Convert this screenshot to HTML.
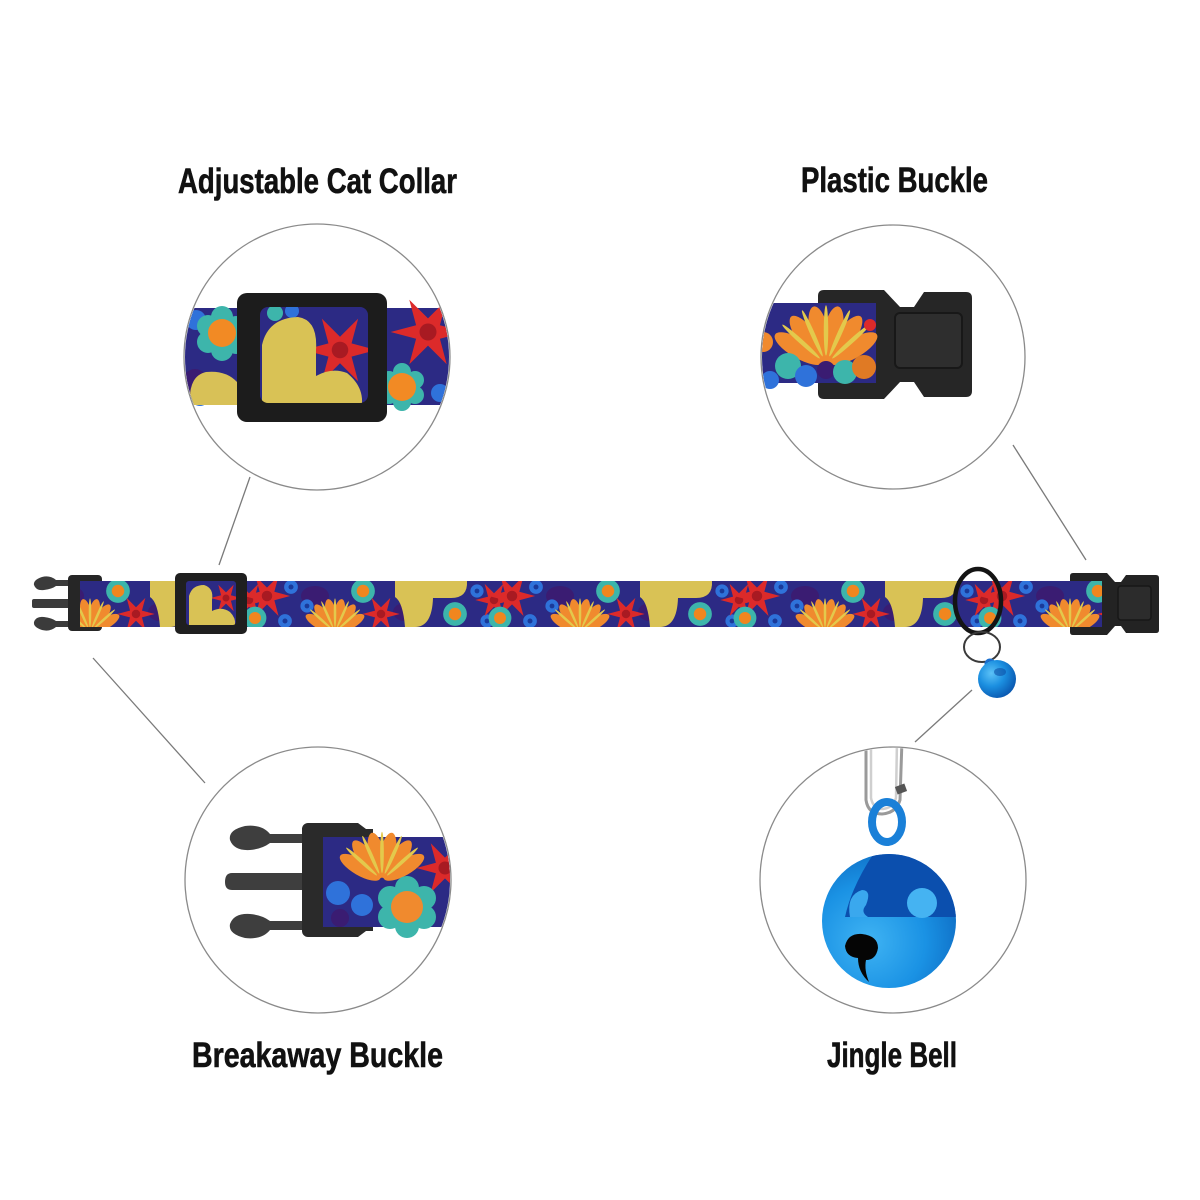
<!DOCTYPE html>
<html><head><meta charset="utf-8">
<style>
html,body{margin:0;padding:0;background:#fff;}
svg{display:block;}
text{font-family:"Liberation Sans Narrow","Liberation Sans",sans-serif;font-weight:bold;fill:#111;stroke:#111;stroke-width:0.6;}
</style></head>
<body>
<svg width="1200" height="1200" viewBox="0 0 1200 1200" xmlns="http://www.w3.org/2000/svg">
<defs>
  <g id="tf"><circle r="9.5" fill="#3db5ab"/><circle r="5" fill="#f0861f"/></g>
  <g id="rf"><polygon points="11,0 3.5,2 5.5,9.5 0,4 -5.5,9.5 -3.5,2 -11,0 -3.5,-2 -5.5,-9.5 0,-4 5.5,-9.5 3.5,-2" fill="#dc2a2a"/><circle r="2.5" fill="#a81a22"/></g>
  <g id="bf"><circle r="5.5" fill="#2f72da"/><circle r="2" fill="#1a3a9a"/></g>
  <g id="of" fill="#f08a2e">
    <ellipse cx="0" cy="-11" rx="3.5" ry="10" transform="rotate(-60)"/>
    <ellipse cx="0" cy="-11" rx="3.5" ry="10" transform="rotate(-36)"/>
    <ellipse cx="0" cy="-11" rx="3.5" ry="10" transform="rotate(-12)"/>
    <ellipse cx="0" cy="-11" rx="3.5" ry="10" transform="rotate(12)"/>
    <ellipse cx="0" cy="-11" rx="3.5" ry="10" transform="rotate(36)"/>
    <ellipse cx="0" cy="-11" rx="3.5" ry="10" transform="rotate(60)"/>
  </g>
  <g id="yf" fill="#e3c94c">
    <ellipse cx="0" cy="-12" rx="0.8" ry="9" transform="rotate(-48)"/>
    <ellipse cx="0" cy="-12" rx="0.8" ry="9" transform="rotate(-24)"/>
    <ellipse cx="0" cy="-12" rx="0.8" ry="9" transform="rotate(0)"/>
    <ellipse cx="0" cy="-12" rx="0.8" ry="9" transform="rotate(24)"/>
    <ellipse cx="0" cy="-12" rx="0.8" ry="9" transform="rotate(48)"/>
  </g>
  <g id="unit">
    <ellipse cx="60" cy="596" rx="14" ry="10" fill="#3a1c72"/>
    <ellipse cx="150" cy="612" rx="12" ry="9" fill="#3a1c72"/>
    <use href="#rf" transform="translate(12,596) scale(2.1)"/>
    <use href="#tf" transform="translate(0,618) scale(1.2)"/>
    <use href="#bf" transform="translate(36,587) scale(1.25)"/>
    <use href="#bf" transform="translate(30,621) scale(1.25)"/>
    <use href="#bf" transform="translate(52,606) scale(1.2)"/>
    <use href="#of" transform="translate(80,632) scale(1.6)"/>
    <use href="#yf" transform="translate(80,632) scale(1.6)"/>
    <use href="#tf" transform="translate(108,591) scale(1.25)"/>
    <use href="#rf" transform="translate(126,614) scale(1.7)"/>
    <path d="M140,581 L212,581 Q213,598 196,598 L178,598 Q177,627 160,627 L150,627 Q148,602 140,597 Z" fill="#d9c255"/>
    <use href="#tf" transform="translate(200,614) scale(1.25)"/>
    <use href="#bf" transform="translate(222,591) scale(1.2)"/>
    <use href="#bf" transform="translate(232,621) scale(1.2)"/>
    <use href="#rf" transform="translate(239,600) scale(1.7)"/>
  </g>
  <clipPath id="strapClip"><rect x="80" y="581" width="1022" height="46"/></clipPath>
  <clipPath id="cTL"><circle cx="317" cy="357" r="132"/></clipPath>
  <clipPath id="cTR"><circle cx="893" cy="357" r="131"/></clipPath>
  <clipPath id="cBL"><circle cx="318" cy="880" r="132"/></clipPath>
  <clipPath id="cBR"><circle cx="893" cy="880" r="132"/></clipPath>
  <clipPath id="bellClip"><circle cx="889" cy="921" r="67"/></clipPath>
  <radialGradient id="bellG" cx="0.35" cy="0.65" r="0.7">
    <stop offset="0" stop-color="#3fb3f3"/>
    <stop offset="0.6" stop-color="#1a92e4"/>
    <stop offset="1" stop-color="#0f6fc6"/>
  </radialGradient>
  <radialGradient id="bellS" cx="0.35" cy="0.35" r="0.7">
    <stop offset="0" stop-color="#5cc2f7"/>
    <stop offset="0.5" stop-color="#1b8fe0"/>
    <stop offset="1" stop-color="#0a58b0"/>
  </radialGradient>
</defs>

<!-- Titles -->
<text x="178" y="193" font-size="35" textLength="279" lengthAdjust="spacingAndGlyphs">Adjustable Cat Collar</text>
<text x="801" y="192" font-size="35" textLength="187" lengthAdjust="spacingAndGlyphs">Plastic Buckle</text>
<text x="192" y="1067" font-size="35" textLength="251" lengthAdjust="spacingAndGlyphs">Breakaway Buckle</text>
<text x="827" y="1067" font-size="35" textLength="130" lengthAdjust="spacingAndGlyphs">Jingle Bell</text>

<!-- Connector lines -->
<g stroke="#7a7a7a" stroke-width="1.3" fill="none">
  <line x1="250" y1="477" x2="219" y2="565"/>
  <line x1="1013" y1="445" x2="1086" y2="560"/>
  <line x1="93" y1="658" x2="205" y2="783"/>
  <line x1="972" y1="690" x2="915" y2="742"/>
</g>

<!-- ===== Main collar ===== -->
<g fill="#3b3b3b">
  <path d="M68,580 L56,580 Q50,575 42,577 Q33,580 34,585 Q36,591 44,590 Q52,589 56,586 L68,586 Z"/>
  <path d="M68,627 L56,627 Q50,632 42,630 Q33,627 34,622 Q36,616 44,617 Q52,618 56,621 L68,621 Z"/>
  <rect x="32" y="599" width="38" height="9" rx="2"/>
</g>
<rect x="68" y="575" width="34" height="56" rx="4" fill="#262626"/>
<path d="M1070,576 q0,-3 3,-3 h34 l8,9 h6 l5,-7 h30 q3,0 3,3 v52 q0,3 -3,3 h-30 l-5,-7 h-6 l-8,9 h-34 q-3,0 -3,-3 Z" fill="#232323"/>
<rect x="1118" y="586" width="33" height="34" rx="3" fill="#2c2c2c" stroke="#171717" stroke-width="1.5"/>
<g clip-path="url(#strapClip)">
  <rect x="78" y="581" width="1030" height="46" fill="#2c2a84"/>
  <use href="#unit" transform="translate(10,0)"/>
  <use href="#unit" transform="translate(255,0)"/>
  <use href="#unit" transform="translate(500,0)"/>
  <use href="#unit" transform="translate(745,0)"/>
  <use href="#unit" transform="translate(990,0)"/>
</g>
<rect x="186" y="581" width="50" height="44" fill="#2c2a84"/>
<use href="#rf" transform="translate(226,598) scale(1.4)"/>
<path d="M189,625 L189,596 Q192,585 204,585 Q214,588 212,600 L212,611 Q222,606 230,612 Q236,618 235,625 Z" fill="#d9c255"/>
<path fill-rule="evenodd" fill="#1f1f1f" d="M180,573 h62 a5,5 0 0 1 5,5 v51 a5,5 0 0 1 -5,5 h-62 a5,5 0 0 1 -5,-5 v-51 a5,5 0 0 1 5,-5 Z M189,581 h44 a3,3 0 0 1 3,3 v38 a3,3 0 0 1 -3,3 h-44 a3,3 0 0 1 -3,-3 v-38 a3,3 0 0 1 3,-3 Z"/>
<ellipse cx="978" cy="601" rx="23" ry="32" fill="none" stroke="#141414" stroke-width="4.5"/>
<ellipse cx="982" cy="647" rx="18" ry="15" fill="none" stroke="#3a3a3a" stroke-width="2"/>
<circle cx="990" cy="664" r="4" fill="none" stroke="#1a6fcf" stroke-width="3"/>
<circle cx="997" cy="679" r="19" fill="url(#bellS)"/>
<ellipse cx="1000" cy="672" rx="6" ry="4" fill="#0b4fa5" opacity="0.6"/>

<!-- ===== Circle: Adjustable Cat Collar ===== -->
<circle cx="317" cy="357" r="133" fill="#fff" stroke="#8a8a8a" stroke-width="1.3"/>
<g clip-path="url(#cTL)">
  <rect x="180" y="308" width="275" height="97" fill="#2c2a84"/>
  <ellipse cx="195" cy="385" rx="14" ry="16" fill="#3a1c72"/>
  <circle cx="196" cy="320" r="10" fill="#2f72da"/>
  <circle cx="200" cy="397" r="9" fill="#2f72da"/>
  <g fill="#3db5ab">
    <circle cx="222" cy="317" r="11"/><circle cx="236" cy="327" r="11"/><circle cx="236" cy="343" r="11"/>
    <circle cx="222" cy="350" r="11"/><circle cx="208" cy="342" r="11"/><circle cx="208" cy="326" r="11"/>
  </g>
  <circle cx="222" cy="333" r="14" fill="#f28a24"/>
  <path d="M190,405 Q188,376 206,372 Q226,370 237,382 L237,405 Z" fill="#d8c157"/>
  <use href="#rf" transform="translate(428,332) scale(3.4)"/>
  <g fill="#3db5ab">
    <circle cx="402" cy="372" r="9"/><circle cx="415" cy="380" r="9"/><circle cx="415" cy="395" r="9"/>
    <circle cx="402" cy="402" r="9"/><circle cx="389" cy="395" r="9"/><circle cx="389" cy="380" r="9"/>
  </g>
  <circle cx="402" cy="387" r="14" fill="#f28a24"/>
  <circle cx="440" cy="393" r="9" fill="#2f72da"/>
  <rect x="260" y="307" width="108" height="96" fill="#2c2a84"/>
  <circle cx="275" cy="313" r="8" fill="#3db5ab"/>
  <circle cx="292" cy="311" r="7" fill="#2f72da"/>
  <use href="#rf" transform="translate(340,350) scale(3.3)"/>
  <path d="M262,403 L262,345 Q268,318 298,317 Q318,320 316,350 L316,376 Q332,367 347,373 Q363,386 362,403 Z" fill="#d9c255"/>
  <path fill-rule="evenodd" fill="#1c1c1c" d="M247,293 h130 a10,10 0 0 1 10,10 v109 a10,10 0 0 1 -10,10 h-130 a10,10 0 0 1 -10,-10 v-109 a10,10 0 0 1 10,-10 Z M268,307 h92 a8,8 0 0 1 8,8 v80 a8,8 0 0 1 -8,8 h-92 a8,8 0 0 1 -8,-8 v-80 a8,8 0 0 1 8,-8 Z"/>
</g>

<!-- ===== Circle: Plastic Buckle ===== -->
<circle cx="893" cy="357" r="132" fill="#fff" stroke="#8a8a8a" stroke-width="1.3"/>
<g clip-path="url(#cTR)">
  <path d="M818,296 q0,-6 6,-6 h60 l16,17 h14 l10,-15 h42 q6,0 6,6 v93 q0,6 -6,6 h-42 l-10,-15 h-14 l-16,17 h-60 q-6,0 -6,-6 Z" fill="#262626"/>
  <rect x="895" y="313" width="67" height="55" rx="5" fill="#2e2e2e" stroke="#181818" stroke-width="2"/>
  <rect x="760" y="303" width="116" height="80" fill="#2c2a84"/>
  <circle cx="763" cy="342" r="10" fill="#f08a2e"/>
  <use href="#of" transform="translate(826,364) scale(2.8)"/>
  <use href="#yf" transform="translate(826,364) scale(2.8)"/>
  <circle cx="788" cy="366" r="13" fill="#3db5ab"/>
  <circle cx="806" cy="376" r="11" fill="#2f72da"/>
  <circle cx="826" cy="370" r="9" fill="#3a1c72"/>
  <circle cx="845" cy="372" r="12" fill="#3db5ab"/>
  <circle cx="770" cy="380" r="9" fill="#2f72da"/>
  <circle cx="864" cy="367" r="12" fill="#e07a24"/>
  <circle cx="870" cy="325" r="6" fill="#dc2a2a"/>
</g>

<!-- ===== Circle: Breakaway Buckle ===== -->
<circle cx="318" cy="880" r="133" fill="#fff" stroke="#8a8a8a" stroke-width="1.3"/>
<g clip-path="url(#cBL)">
  <g fill="#3e3e3e">
    <path d="M303,834 L270,834 Q262,824 245,826 Q228,830 230,840 Q234,851 250,850 Q262,849 270,843 L303,843 Z"/>
    <path d="M303,930 L270,930 Q262,940 245,938 Q228,934 230,924 Q234,913 250,914 Q262,915 270,921 L303,921 Z"/>
    <path d="M232,873 L303,873 L303,890 L232,890 Q225,890 225,882 Q225,873 232,873 Z"/>
  </g>
  <path d="M308,823 h50 l8,6 h7 v102 h-7 l-8,6 h-50 a6,6 0 0 1 -6,-6 v-102 a6,6 0 0 1 6,-6 Z" fill="#2a2a2a"/>
  <rect x="323" y="837" width="135" height="90" fill="#2c2a84"/>
  <use href="#of" transform="translate(382,880) scale(2.3)"/>
  <use href="#yf" transform="translate(382,880) scale(2.3)"/>
  <circle cx="338" cy="893" r="12" fill="#2f72da"/>
  <circle cx="362" cy="905" r="11" fill="#2f72da"/>
  <circle cx="340" cy="918" r="9" fill="#3a1c72"/>
  <use href="#rf" transform="translate(445,868) scale(2.6)"/>
  <g fill="#3db5ab">
    <circle cx="407" cy="888" r="12"/><circle cx="424" cy="898" r="12"/><circle cx="424" cy="917" r="12"/>
    <circle cx="407" cy="926" r="12"/><circle cx="390" cy="917" r="12"/><circle cx="390" cy="898" r="12"/>
  </g>
  <circle cx="407" cy="907" r="16" fill="#f08a2e"/>
</g>

<!-- ===== Circle: Jingle Bell ===== -->
<circle cx="893" cy="880" r="133" fill="#fff" stroke="#8a8a8a" stroke-width="1.3"/>
<g clip-path="url(#cBR)">
  <path d="M866,740 L866,800 Q868,814 882,814 Q896,813 900,800 L902,740" fill="none" stroke="#9a9a9a" stroke-width="3"/>
  <path d="M871,740 L871,798 Q873,809 883,809 Q893,808 896,798 L897,740" fill="none" stroke="#cfcfcf" stroke-width="2.5"/>
  <rect x="896" y="785" width="10" height="8" fill="#555" transform="rotate(-20 901 789)"/>
  <ellipse cx="887" cy="822" rx="15" ry="20" fill="none" stroke="#1a80d8" stroke-width="8"/>
  <circle cx="889" cy="921" r="67" fill="url(#bellG)"/>
  <g clip-path="url(#bellClip)">
    <path d="M876,850 L960,850 L960,917 L845,917 Q852,885 876,850 Z" fill="#0b4fae"/>
    <path d="M850,917 Q846,895 862,890 Q872,890 866,905 Q860,912 868,917 Z" fill="#3aa8ee"/>
    <circle cx="922" cy="903" r="15" fill="#45b3f2"/>
  </g>
  <path d="M845,946 Q848,933 862,934 Q878,936 878,948 Q876,960 866,960 Q864,970 869,982 Q858,972 858,958 Q846,957 845,946 Z" fill="#050505"/>
</g>
</svg>
</body></html>
